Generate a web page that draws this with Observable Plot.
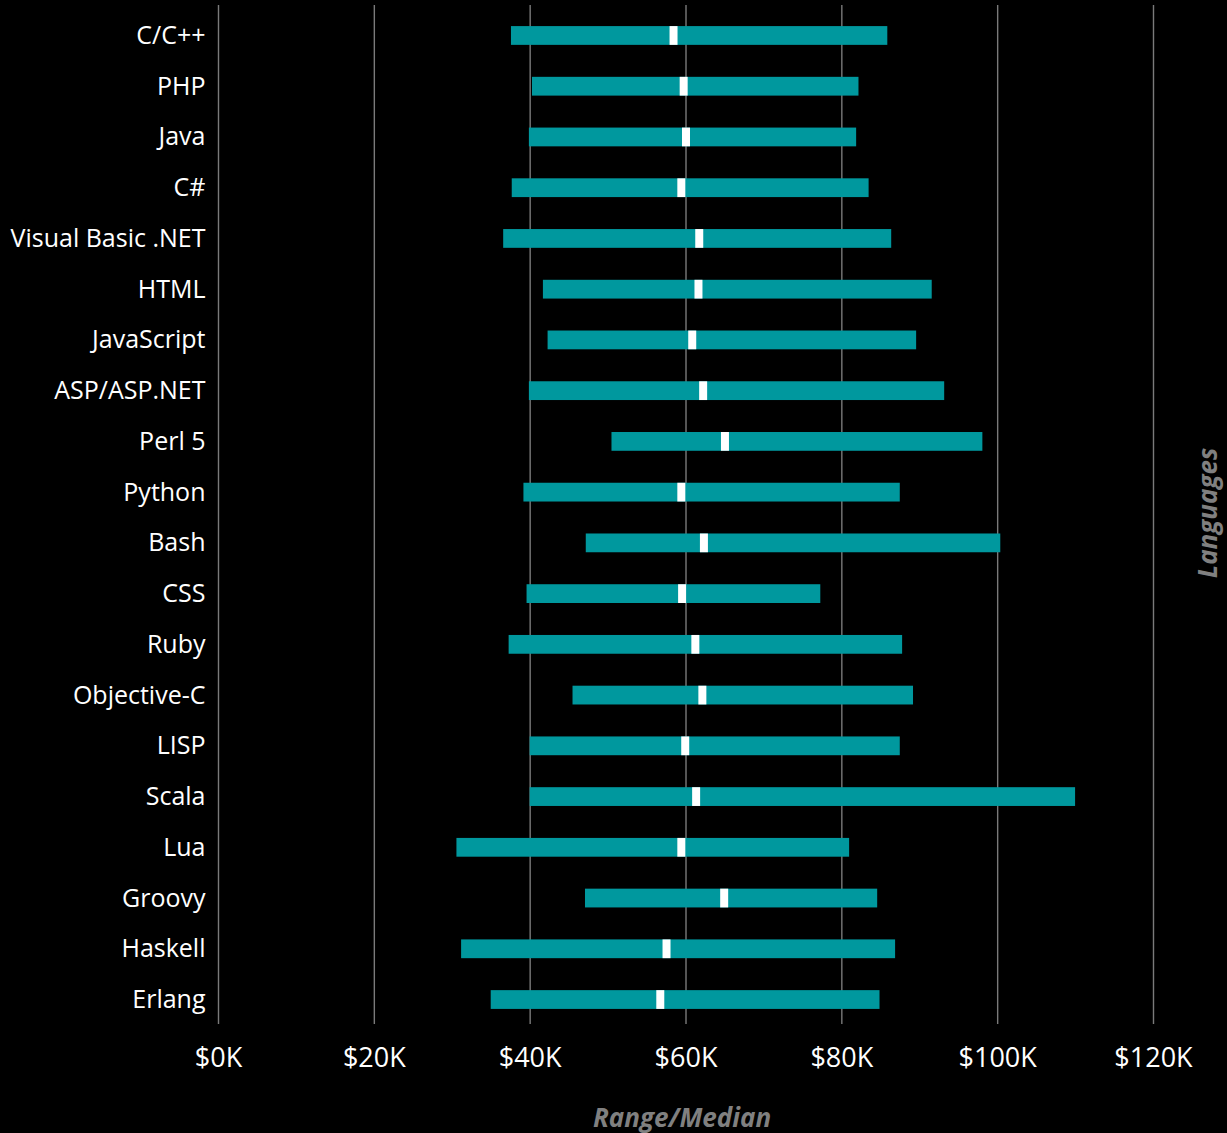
<!DOCTYPE html>
<html>
<head>
<meta charset="utf-8">
<script src="https://cdn.jsdelivr.net/npm/d3@7"></script>
<script src="https://cdn.jsdelivr.net/npm/@observablehq/plot@0.6"></script>
<style>
  html, body { margin: 0; padding: 0; background: #000; }
</style>
</head>
<body>
<div id="chart"></div>
<script>
const languages = ["C/C++", "PHP", "Java", "C#", "Visual Basic .NET", "HTML", "JavaScript", "ASP/ASP.NET", "Perl 5", "Python", "Bash", "CSS", "Ruby", "Objective-C", "LISP", "Scala", "Lua", "Groovy", "Haskell", "Erlang"];
const lowSalary    = [37600, 40300, 39900, 37700, 36600, 41700, 42300, 39900, 50500, 39200, 47200, 39600, 37300, 45500, 40000, 40000, 30600, 47100, 31200, 35000];
const medianSalary = [58400, 59700, 60000, 59400, 61700, 61600, 60800, 62200, 65000, 59400, 62300, 59500, 61200, 62100, 59900, 61300, 59400, 64900, 57500, 56700];
const highSalary   = [85900, 82200, 81900, 83500, 86400, 91600, 89600, 93200, 98100, 87500, 100400, 77300, 87800, 89200, 87500, 110000, 81000, 84600, 86900, 84900];
const xTicks = [0, 20000, 40000, 60000, 80000, 100000, 120000];

const rows = languages.map((name, i) => ({
  name, low: lowSalary[i], median: medianSalary[i], high: highSalary[i]
}));

const fmt = d => `$${d / 1000}K`;

const chart = Plot.plot({
  width: 1227,
  height: 1133,
  marginLeft: 218,
  marginRight: 74,
  marginTop: 5,
  marginBottom: 109,
  style: { background: "#000", color: "#fff", fontFamily: "'Open Sans', sans-serif", fontSize: "25px" },
  x: { domain: [0, 120000], label: null },
  y: { domain: languages, paddingInner: 0.63, paddingOuter: 0.3565, align: 0.583, round: false, label: null },
  marks: [
    Plot.gridX(xTicks, { stroke: "#7a7a7a", strokeOpacity: 1, strokeWidth: 1.4 }),
    Plot.axisX({ ticks: xTicks, tickFormat: fmt, tickSize: 0, tickPadding: 23, fontSize: 27, label: null }),
    Plot.axisY({ tickSize: 0, tickPadding: 13, fontSize: 25, label: null }),
    Plot.barX(rows, { y: "name", x1: "low", x2: "high", fill: "#00989e" }),
    Plot.tickX(rows, { y: "name", x: "median", stroke: "#fff", strokeWidth: 8 }),
    Plot.text(["Range/Median"], { frameAnchor: "bottom", textAnchor: "middle", dx: -4, dy: 102, fill: "#808080", fontStyle: "italic", fontWeight: "bold", fontSize: 26 }),
    Plot.text(["Languages"], { frameAnchor: "right", textAnchor: "middle", dx: 55, dy: -2, rotate: -90, fill: "#808080", fontStyle: "italic", fontWeight: "bold", fontSize: 26 })
  ]
});
document.getElementById("chart").append(chart);
</script>
</body>
</html>
